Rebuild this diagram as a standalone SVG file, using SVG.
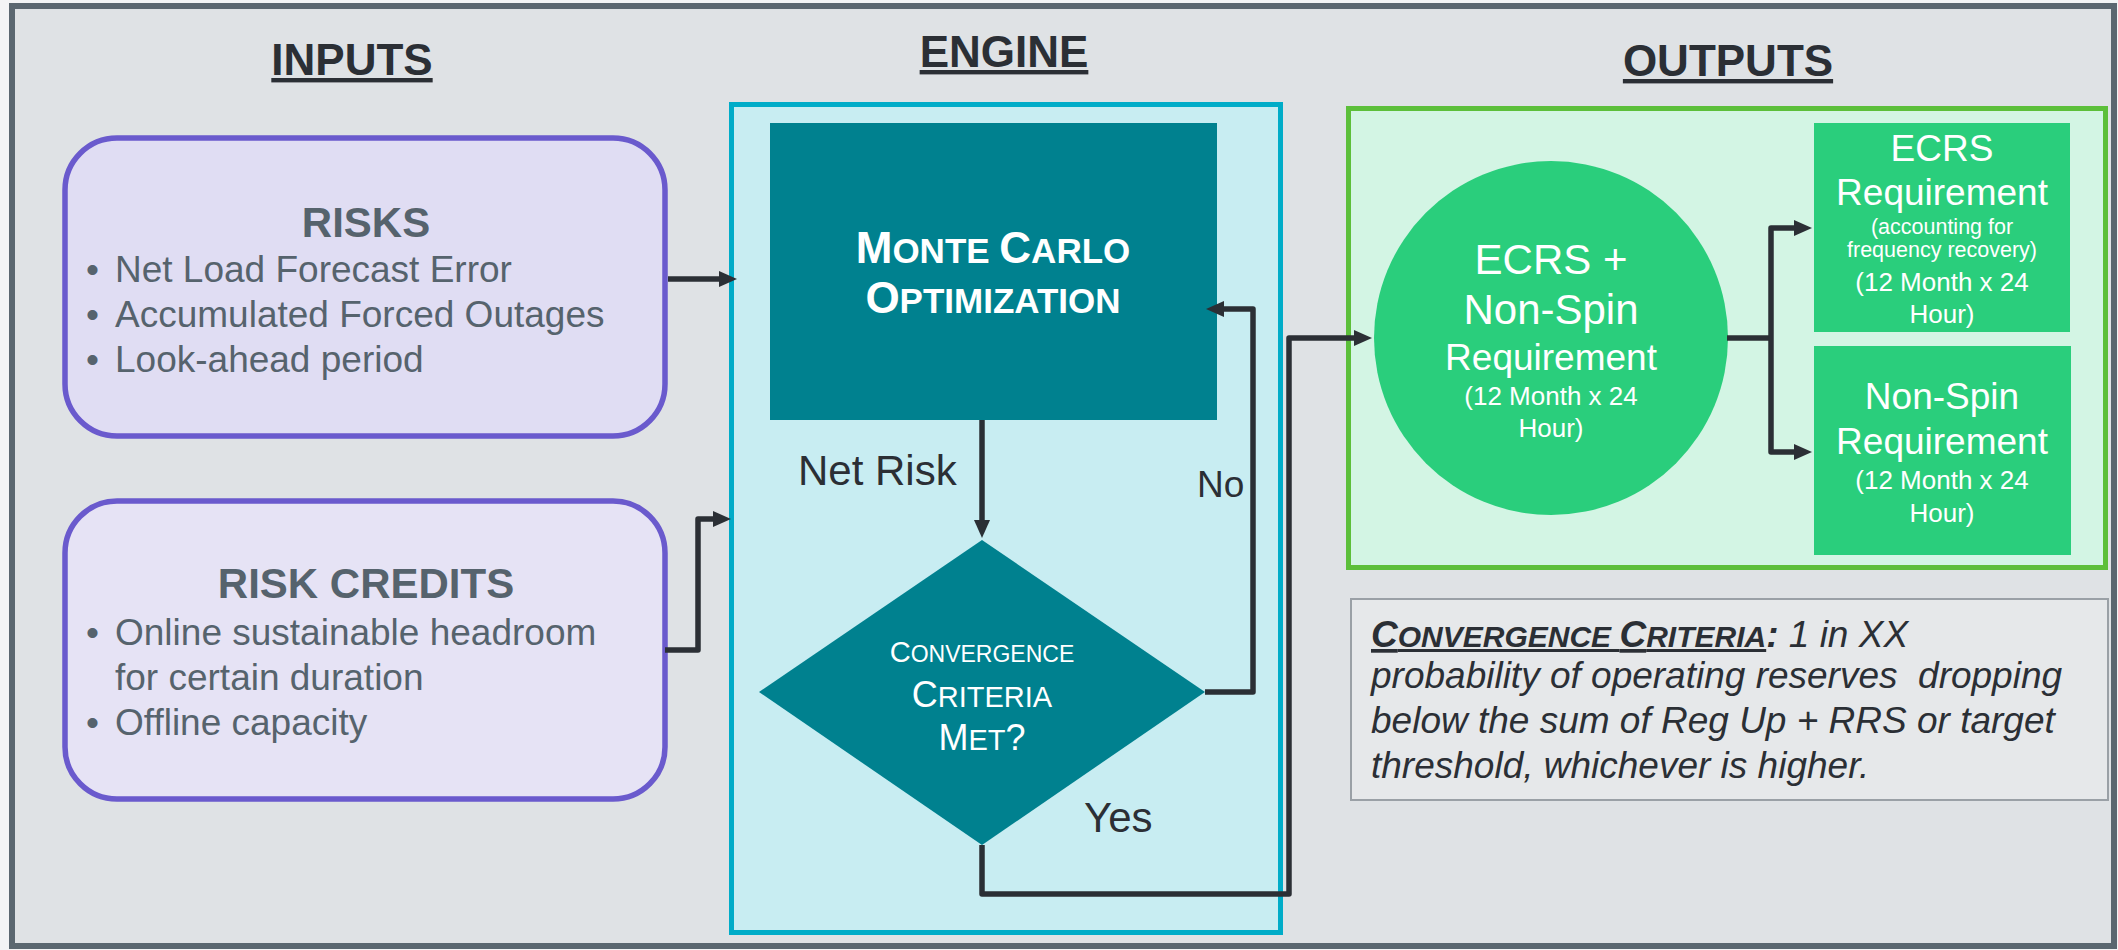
<svg xmlns="http://www.w3.org/2000/svg" width="2118" height="950" viewBox="0 0 2118 950">
<style>
text{font-family:"Liberation Sans",Arial,sans-serif;}
.title{font-size:44px;font-weight:bold;fill:#2b2f35;text-anchor:middle;text-decoration:underline;}
.boxtitle{font-size:42px;font-weight:bold;fill:#56636d;text-anchor:middle;}
.bullet{font-size:37px;fill:#56636d;}
.wt{fill:#ffffff;text-anchor:middle;}
.lbl{fill:#2b2f35;}
.conn{fill:none;stroke:#2b2f35;stroke-width:5.5;stroke-linejoin:round;}
.note{font-size:37px;font-style:italic;fill:#2b2f35;}
</style>
<defs>
<marker id="arr" markerUnits="userSpaceOnUse" viewBox="0 0 18 16" markerWidth="18" markerHeight="16" refX="2" refY="8" orient="auto">
<path d="M0,0 L18,8 L0,16 z" fill="#2b2f35"/>
</marker>
</defs>
<rect x="0" y="0" width="2118" height="950" fill="#f3f4f5"/>
<rect id="frame" x="12" y="6" width="2102" height="940" fill="#dfe2e5" stroke="#5b6770" stroke-width="6"/>

<g id="headers">
<text class="title" x="352" y="75">INPUTS</text>
<text class="title" x="1004" y="67">ENGINE</text>
<text class="title" x="1728" y="76">OUTPUTS</text>
</g>

<g id="engine-container">
<rect x="731.5" y="104.5" width="549" height="828" fill="#c8edf2" stroke="#00acc8" stroke-width="5"/>
</g>
<g id="outputs-container">
<rect x="1348.5" y="108.5" width="757" height="459" fill="#d3f5e4" stroke="#5cbf3a" stroke-width="5"/>
</g>

<g id="risks">
<rect x="65" y="138" width="600" height="298" rx="52" fill="#e0ddf3" stroke="#6a5acd" stroke-width="5.5"/>
<text class="boxtitle" x="366" y="237">RISKS</text>
<text class="bullet" y="282"><tspan x="86">•</tspan><tspan x="115">Net Load Forecast Error</tspan></text>
<text class="bullet" y="327"><tspan x="86">•</tspan><tspan x="115">Accumulated Forced Outages</tspan></text>
<text class="bullet" y="372"><tspan x="86">•</tspan><tspan x="115">Look-ahead period</tspan></text>
</g>

<g id="risk-credits">
<rect x="65" y="501" width="600" height="298" rx="52" fill="#e6e3f5" stroke="#6a5acd" stroke-width="5.5"/>
<text class="boxtitle" x="366" y="598">RISK CREDITS</text>
<text class="bullet" y="645"><tspan x="86">•</tspan><tspan x="115">Online sustainable headroom</tspan></text>
<text class="bullet" x="115" y="690">for certain duration</text>
<text class="bullet" y="735"><tspan x="86">•</tspan><tspan x="115">Offline capacity</tspan></text>
</g>

<g id="monte-carlo">
<rect x="770" y="123" width="447" height="297" fill="#00818f"/>
<text class="wt" x="993" y="263" font-weight="bold"><tspan font-size="44">M</tspan><tspan font-size="35">ONTE </tspan><tspan font-size="44">C</tspan><tspan font-size="35">ARLO</tspan></text>
<text class="wt" x="993" y="313" font-weight="bold"><tspan font-size="44">O</tspan><tspan font-size="35">PTIMIZATION</tspan></text>
</g>

<g id="convergence-decision">
<polygon points="982,540 1205,692 982,845 759,692" fill="#00818f"/>
<text class="wt" x="982" y="662"><tspan font-size="29">C</tspan><tspan font-size="23">ONVERGENCE</tspan></text>
<text class="wt" x="982" y="707"><tspan font-size="36">C</tspan><tspan font-size="29">RITERIA</tspan></text>
<text class="wt" x="982" y="750"><tspan font-size="36">M</tspan><tspan font-size="29">ET</tspan><tspan font-size="36">?</tspan></text>
</g>

<g id="ecrs-nonspin">
<circle cx="1551" cy="338" r="177" fill="#2ace7c"/>
<text class="wt" x="1551" y="274" font-size="42">ECRS +</text>
<text class="wt" x="1551" y="324" font-size="42">Non-Spin</text>
<text class="wt" x="1551" y="370" font-size="37">Requirement</text>
<text class="wt" x="1551" y="405" font-size="26">(12 Month x 24</text>
<text class="wt" x="1551" y="437" font-size="26">Hour)</text>
</g>

<g id="ecrs-requirement">
<rect x="1814" y="123" width="256" height="209" fill="#2ace7c"/>
<text class="wt" x="1942" y="161" font-size="37">ECRS</text>
<text class="wt" x="1942" y="205" font-size="37">Requirement</text>
<text class="wt" x="1942" y="234" font-size="21.5">(accounting for</text>
<text class="wt" x="1942" y="257" font-size="21.5">frequency recovery)</text>
<text class="wt" x="1942" y="291" font-size="26">(12 Month x 24</text>
<text class="wt" x="1942" y="323" font-size="26">Hour)</text>
</g>

<g id="nonspin-requirement">
<rect x="1814" y="346" width="257" height="209" fill="#2ace7c"/>
<text class="wt" x="1942" y="409" font-size="37">Non-Spin</text>
<text class="wt" x="1942" y="454" font-size="37">Requirement</text>
<text class="wt" x="1942" y="489" font-size="26">(12 Month x 24</text>
<text class="wt" x="1942" y="522" font-size="26">Hour)</text>
</g>

<g id="criteria-note">
<rect x="1351" y="599" width="757" height="201" fill="#e6e8ea" stroke="#9aa0a6" stroke-width="2"/>
<text class="note" x="1371" y="647"><tspan font-weight="bold" text-decoration="underline"><tspan font-size="37">C</tspan><tspan font-size="30">ONVERGENCE </tspan><tspan font-size="37">C</tspan><tspan font-size="30">RITERIA</tspan></tspan><tspan font-weight="bold">:</tspan> 1 in XX</text>
<text class="note" x="1371" y="688" xml:space="preserve">probability of operating reserves  dropping</text>
<text class="note" x="1371" y="733">below the sum of Reg Up + RRS or target</text>
<text class="note" x="1371" y="778">threshold, whichever is higher.</text>
</g>

<g id="connectors">
<path class="conn" d="M668,279 H721" marker-end="url(#arr)"/>
<path class="conn" d="M665,650 H698 V519 H715" marker-end="url(#arr)"/>
<path class="conn" d="M982,420 V522" marker-end="url(#arr)"/>
<path class="conn" d="M1205,692 H1253 V309 H1222" marker-end="url(#arr)"/>
<path class="conn" d="M982,845 V894 H1289 V338 H1356" marker-end="url(#arr)"/>
<path class="conn" d="M1727,338 H1771"/>
<path class="conn" d="M1771,338 V228 H1796" marker-end="url(#arr)"/>
<path class="conn" d="M1771,338 V452 H1796" marker-end="url(#arr)"/>
</g>

<g id="edge-labels">
<text class="lbl" x="798" y="485" font-size="42">Net Risk</text>
<text class="lbl" x="1197" y="497" font-size="37">No</text>
<text class="lbl" x="1084" y="832" font-size="42">Yes</text>
</g>
</svg>
